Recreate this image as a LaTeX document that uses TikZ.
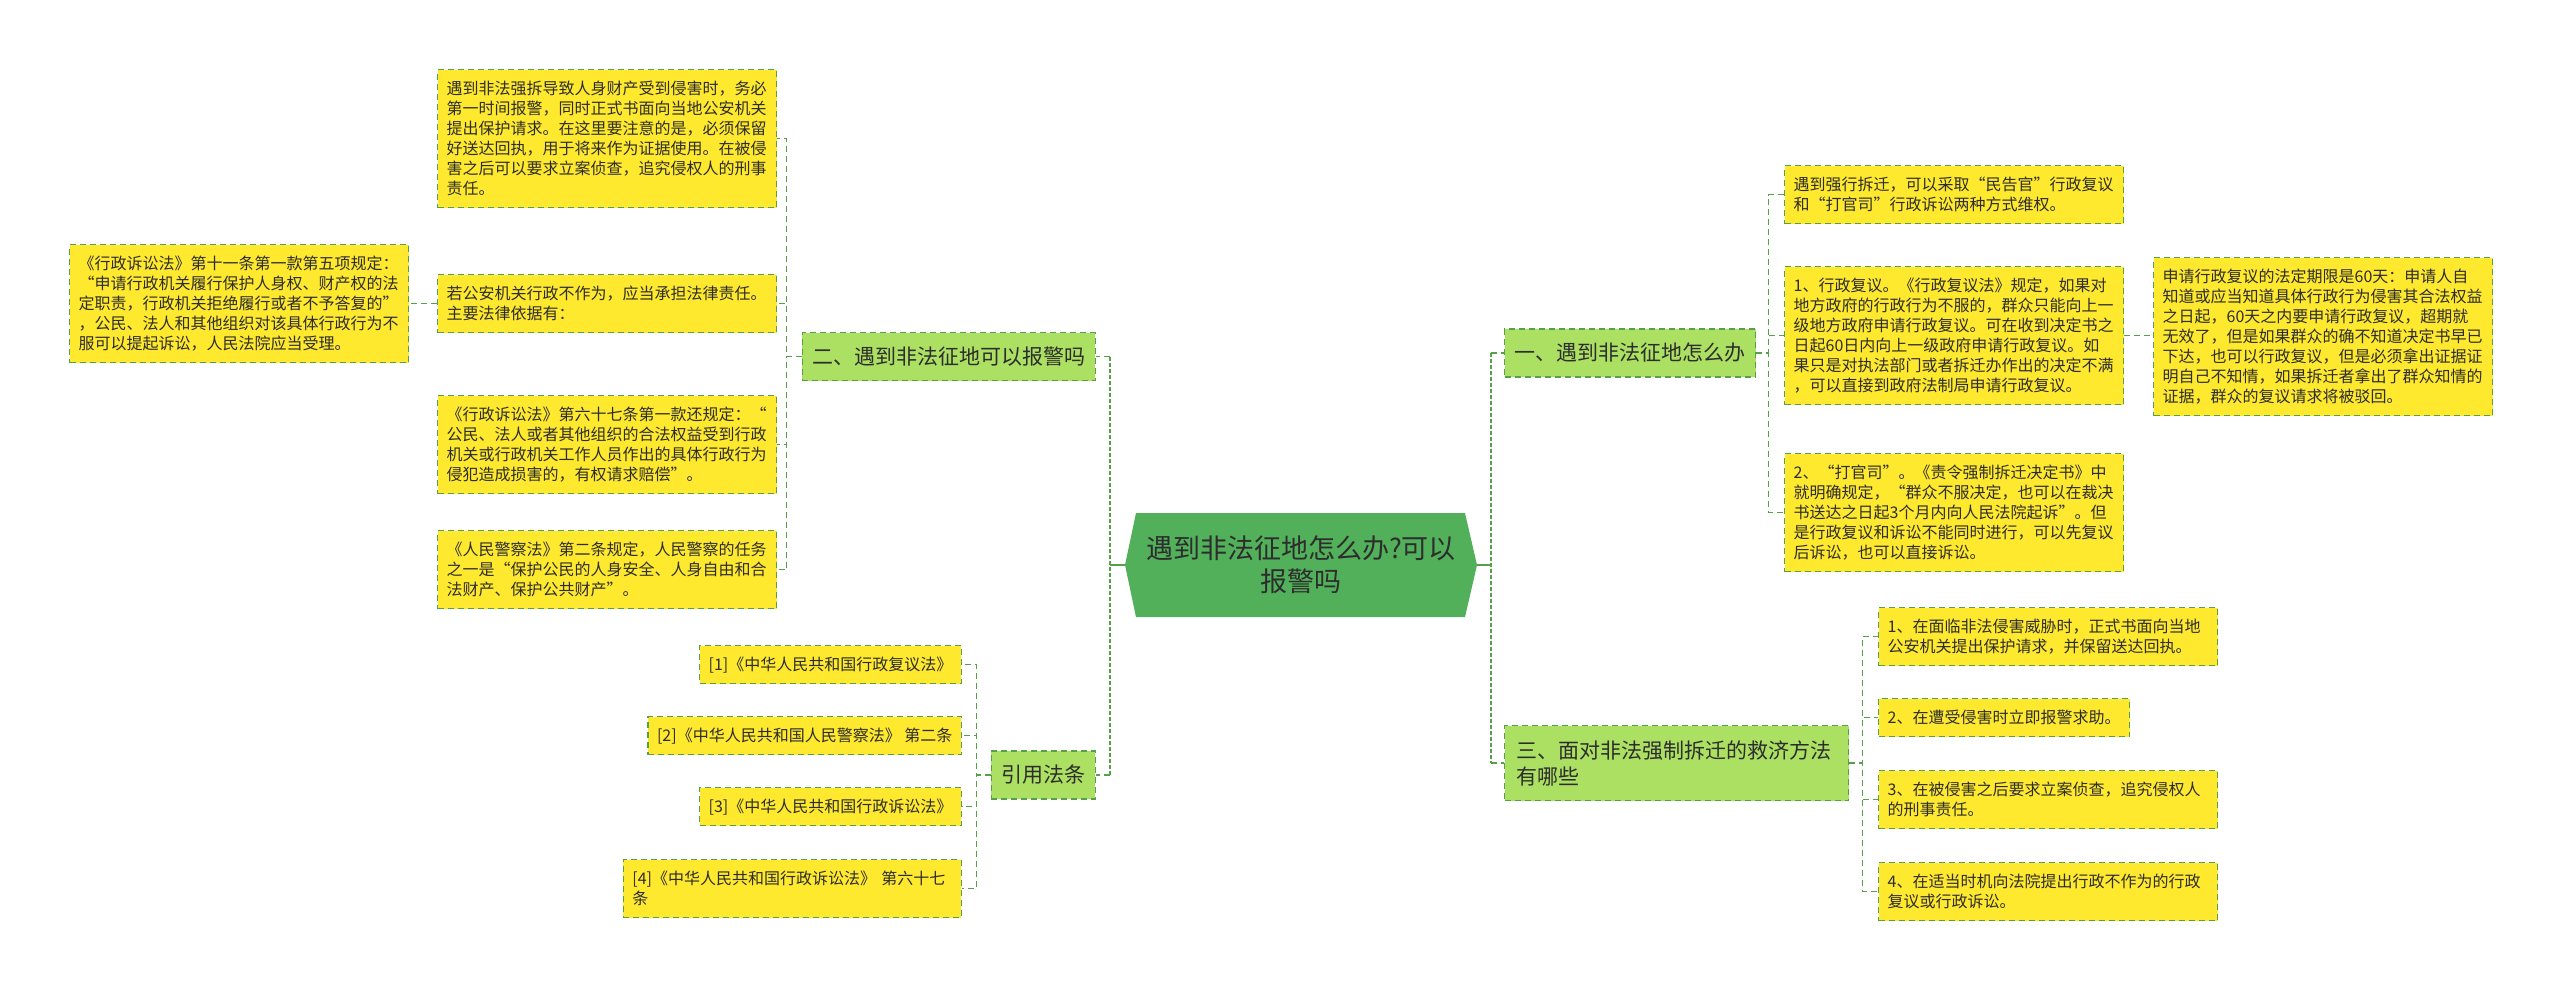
\documentclass[tikz,border=0pt]{standalone}
\usepackage{fontspec}
\setmainfont{Noto Sans CJK SC}
\usetikzlibrary{positioning}
\definecolor{zdroot}{RGB}{82,176,91}
\definecolor{zdbranch}{RGB}{172,224,98}
\definecolor{zdleaf}{RGB}{255,233,46}
\definecolor{zdline}{RGB}{86,160,72}
\definecolor{zdtext}{RGB}{45,45,45}

\begin{document}
\begin{tikzpicture}[x=1pt, y=-1pt,
    leaf/.style={draw=zdline, dash pattern=on 6pt off 4pt, line width=1.3pt,
        fill=zdleaf, text=zdtext, font=\fontsize{16}{20}\selectfont,
        align=left, inner xsep=9pt, inner ysep=0pt, anchor=north west},
    wide/.style={text width=321pt},
    nl/.style={minimum height={20*#1+18}},
    branch/.style={draw=zdline, dash pattern=on 6pt off 4pt, line width=1.3pt,
        fill=zdbranch, text=zdtext, font=\fontsize{21}{26}\selectfont,
        align=left, inner xsep=10pt, inner ysep=0pt, minimum height=48pt},
    link/.style={draw=zdline, dash pattern=on 6pt off 4pt, line width=1.4pt},
    stem/.style={draw=zdline, line width=2.2pt},
    trunk/.style={draw=zdline, dash pattern=on 4pt off 2pt, line width=2.4pt}]

\useasboundingbox[fill=white] (0,0) rectangle (2560,989);

% === Centro ===
\fill[zdroot] (1125,565) -- (1136,513) -- (1465,513) -- (1477,565)
    -- (1465,617) -- (1136,617) -- cycle;
\coordinate (rootE) at (1477,565);
\coordinate (rootW) at (1125,565);
\node[text=zdtext, font=\fontsize{27}{33}\selectfont, align=center] (root) at (1301,565)
    {遇到非法征地怎么办?可以\\报警吗};

% === Rama derecha: 一 ===
\node[branch, anchor=west] (b1) at (1504,353) {一、遇到非法征地怎么办};
\node[leaf, wide, nl=2] (r1) at (1784,165) {遇到强行拆迁，可以采取“民告官”行政复议\\和“打官司”行政诉讼两种方式维权。};
\node[leaf, wide, nl=6] (r2) at (1784,266) {1、行政复议。《行政复议法》规定，如果对\\地方政府的行政行为不服的，群众只能向上一\\级地方政府申请行政复议。可在收到决定书之\\日起60日内向上一级政府申请行政复议。如\\果只是对执法部门或者拆迁办作出的决定不满\\，可以直接到政府法制局申请行政复议。};
\node[leaf, wide, nl=7] (r2a) at (2153,257) {申请行政复议的法定期限是60天：申请人自\\知道或应当知道具体行政行为侵害其合法权益\\之日起，60天之内要申请行政复议，超期就\\无效了，但是如果群众的确不知道决定书早已\\下达，也可以行政复议，但是必须拿出证据证\\明自己不知情，如果拆迁者拿出了群众知情的\\证据，群众的复议请求将被驳回。};
\node[leaf, wide, nl=5] (r3) at (1784,453) {2、“打官司”。《责令强制拆迁决定书》中\\就明确规定，“群众不服决定，也可以在裁决\\书送达之日起3个月内向人民法院起诉”。但\\是行政复议和诉讼不能同时进行，可以先复议\\后诉讼，也可以直接诉讼。};

\draw[link] (b1.east) -- ++(12,0) |- (r1.west);
\draw[link] (b1.east) -- ++(12,0) |- (r2.west);
\draw[link] (b1.east) -- ++(12,0) |- (r3.west);
\draw[link] (r2.east) -- (r2.east -| r2a.west);

% === Rama derecha: 三 ===
\node[branch, anchor=north west, text width=320pt, inner xsep=12pt, minimum height=75pt] (b3) at (1504,725)
    {三、面对非法强制拆迁的救济方法\\有哪些};
\node[leaf, wide, nl=2] (s1) at (1878,607) {1、在面临非法侵害威胁时，正式书面向当地\\公安机关提出保护请求，并保留送达回执。};
\node[leaf, nl=1] (s2) at (1878,698) {2、在遭受侵害时立即报警求助。};
\node[leaf, wide, nl=2] (s3) at (1878,770) {3、在被侵害之后要求立案侦查，追究侵权人\\的刑事责任。};
\node[leaf, wide, nl=2] (s4) at (1878,862) {4、在适当时机向法院提出行政不作为的行政\\复议或行政诉讼。};

\draw[link] (b3.east) -- ++(13,0) |- (s1.west);
\draw[link] (b3.east) -- ++(13,0) |- (s2.west);
\draw[link] (b3.east) -- ++(13,0) |- (s3.west);
\draw[link] (b3.east) -- ++(13,0) |- (s4.west);

% === Rama izquierda: 二 ===
\node[branch, anchor=east] (b2) at (1096,356.5) {二、遇到非法征地可以报警吗};
\node[leaf, wide, nl=6] (p1) at (437,69) {遇到非法强拆导致人身财产受到侵害时，务必\\第一时间报警，同时正式书面向当地公安机关\\提出保护请求。在这里要注意的是，必须保留\\好送达回执，用于将来作为证据使用。在被侵\\害之后可以要求立案侦查，追究侵权人的刑事\\责任。};
\node[leaf, wide, nl=2] (p2) at (437,274) {若公安机关行政不作为，应当承担法律责任。\\主要法律依据有：};
\node[leaf, wide, nl=5] (law) at (69,244) {《行政诉讼法》第十一条第一款第五项规定：\\“申请行政机关履行保护人身权、财产权的法\\定职责，行政机关拒绝履行或者不予答复的”\\，公民、法人和其他组织对该具体行政行为不\\服可以提起诉讼，人民法院应当受理。};
\node[leaf, wide, nl=4] (p3) at (437,395) {《行政诉讼法》第六十七条第一款还规定：“\\公民、法人或者其他组织的合法权益受到行政\\机关或行政机关工作人员作出的具体行政行为\\侵犯造成损害的，有权请求赔偿”。};
\node[leaf, wide, nl=3] (p4) at (437,530) {《人民警察法》第二条规定，人民警察的任务\\之一是“保护公民的人身安全、人身自由和合\\法财产、保护公共财产”。};

\draw[link] (b2.west) -- ++(-15,0) |- (p1.east);
\draw[link] (b2.west) -- ++(-15,0) |- (p2.east);
\draw[link] (b2.west) -- ++(-15,0) |- (p3.east);
\draw[link] (b2.west) -- ++(-15,0) |- (p4.east);
\draw[link] (p2.west) -- (p2.west -| law.east);

% === Rama izquierda: 引用法条 ===
\node[branch, anchor=east] (cite) at (1096,775) {引用法条};
\node[leaf, nl=1, anchor=north east] (c1) at (962,645) {[1]《中华人民共和国行政复议法》};
\node[leaf, nl=1, anchor=north east] (c2) at (962,716) {[2]《中华人民共和国人民警察法》 第二条};
\node[leaf, nl=1, anchor=north east] (c3) at (962,787) {[3]《中华人民共和国行政诉讼法》};
\node[leaf, nl=2, anchor=north east, text width=320pt] (c4) at (962,859) {[4]《中华人民共和国行政诉讼法》 第六十七\\条};

\draw[link] (cite.west) -- ++(-14,0) |- (c1.east);
\draw[link] (cite.west) -- ++(-14,0) |- (c2.east);
\draw[link] (cite.west) -- ++(-14,0) |- (c3.east);
\draw[link] (cite.west) -- ++(-14,0) |- (c4.east);

% === Tronco ===
\draw[stem] (rootE) -- ++(14,0) coordinate (jR);
\draw[trunk] (jR |- b1.west) -- (jR |- b3.west);
\draw[link] (jR |- b1.west) -- (b1.west);
\draw[link] (jR |- b3.west) -- (b3.west);

\draw[stem] (rootW) -- ++(-15,0) coordinate (jL);
\draw[trunk] (jL |- b2.east) -- (jL |- cite.east);
\draw[link] (jL |- b2.east) -- (b2.east);
\draw[link] (jL |- cite.east) -- (cite.east);

\end{tikzpicture}
\end{document}
